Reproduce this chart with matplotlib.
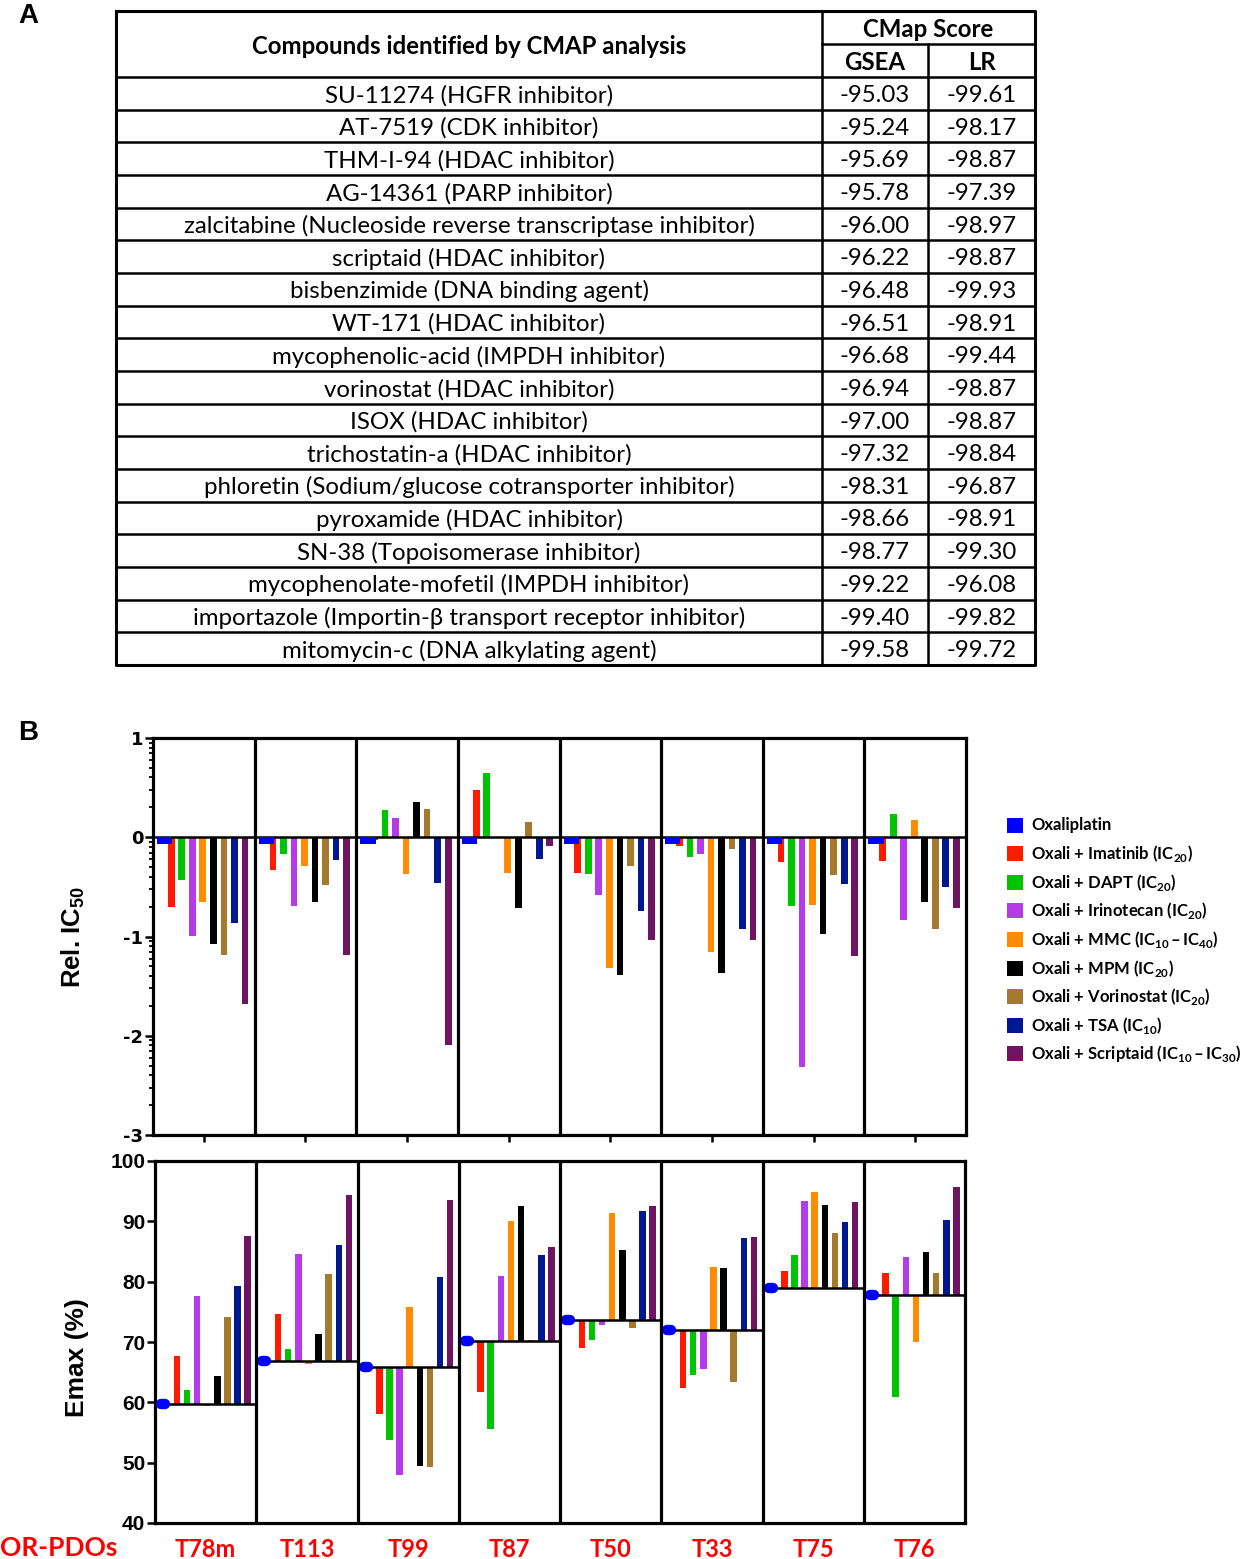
import numpy as np
import matplotlib.pyplot as plt
from matplotlib.patches import Rectangle
from matplotlib.ticker import FixedLocator

plt.rcParams['axes.unicode_minus'] = False
plt.rcParams['mathtext.fontset'] = 'custom'
plt.rcParams['mathtext.rm'] = 'Lato'
plt.rcParams['mathtext.bf'] = 'Lato:bold'
plt.rcParams['mathtext.sf'] = 'Liberation Sans:bold'

W, H = 1248, 1559

# ---------------- Panel A : CMap table ----------------
compounds = [
    "SU-11274 (HGFR inhibitor)",
    "AT-7519 (CDK inhibitor)",
    "THM-I-94 (HDAC inhibitor)",
    "AG-14361 (PARP inhibitor)",
    "zalcitabine (Nucleoside reverse transcriptase inhibitor)",
    "scriptaid (HDAC inhibitor)",
    "bisbenzimide (DNA binding agent)",
    "WT-171 (HDAC inhibitor)",
    "mycophenolic-acid (IMPDH inhibitor)",
    "vorinostat (HDAC inhibitor)",
    "ISOX (HDAC inhibitor)",
    "trichostatin-a (HDAC inhibitor)",
    "phloretin (Sodium/glucose cotransporter inhibitor)",
    "pyroxamide (HDAC inhibitor)",
    "SN-38 (Topoisomerase inhibitor)",
    "mycophenolate-mofetil (IMPDH inhibitor)",
    "importazole (Importin-\u03b2 transport receptor inhibitor)",
    "mitomycin-c (DNA alkylating agent)",
]
gsea_score = [-95.03, -95.24, -95.69, -95.78, -96.00, -96.22, -96.48, -96.51, -96.68,
              -96.94, -97.00, -97.32, -98.31, -98.66, -98.77, -99.22, -99.40, -99.58]
lr_score = [-99.61, -98.17, -98.87, -97.39, -98.97, -98.87, -99.93, -98.91, -99.44,
            -98.87, -98.87, -98.84, -96.87, -98.91, -99.30, -96.08, -99.82, -99.72]

# ---------------- Panel B : organoid responses ----------------
pdos = ["T78m", "T113", "T99", "T87", "T50", "T33", "T75", "T76"]
legend_labels = [
    "Oxaliplatin",
    "Oxali + Imatinib (IC$_{\\mathbf{20}}$)",
    "Oxali + DAPT (IC$_{\\mathbf{20}}$)",
    "Oxali + Irinotecan (IC$_{\\mathbf{20}}$)",
    "Oxali + MMC (IC$_{\\mathbf{10}}$\u2009\u2013\u2009IC$_{\\mathbf{40}}$)",
    "Oxali + MPM (IC$_{\\mathbf{20}}$)",
    "Oxali + Vorinostat (IC$_{\\mathbf{20}}$)",
    "Oxali + TSA (IC$_{\\mathbf{10}}$)",
    "Oxali + Scriptaid (IC$_{\\mathbf{10}}$\u2009\u2013\u2009IC$_{\\mathbf{30}}$)",
]
bar_colors = ["#0000FF", "#FF1A00", "#00C400", "#B53BE8", "#FF8C00",
              "#000000", "#A47A2C", "#001890", "#6E1460"]

# relative IC50 (log scale, vs oxaliplatin alone)
oxali_rel = [-0.07, -0.07, -0.07, -0.07, -0.07, -0.07, -0.07, -0.07]
imatinib_rel = [-0.70, -0.33, -0.03, 0.48, -0.36, -0.09, -0.25, -0.24]
dapt_rel = [-0.43, -0.17, 0.27, 0.65, -0.37, -0.20, -0.69, 0.23]
irino_rel = [-0.99, -0.69, 0.19, -0.01, -0.58, -0.17, -2.31, -0.83]
mmc_rel = [-0.65, -0.29, -0.37, -0.36, -1.32, -1.16, -0.68, 0.17]
mpm_rel = [-1.08, -0.65, 0.36, -0.71, -1.39, -1.37, -0.97, -0.65]
vorino_rel = [-1.19, -0.48, 0.28, 0.15, -0.29, -0.12, -0.38, -0.92]
tsa_rel = [-0.86, -0.23, -0.46, -0.22, -0.74, -0.92, -0.47, -0.50]
scrip_rel = [-1.68, -1.19, -2.09, -0.09, -1.04, -1.04, -1.20, -0.71]

# Emax (%)
oxali_emax = [59.8, 66.9, 65.9, 70.1, 73.6, 72.0, 78.9, 77.8]
imatinib_emax = [67.7, 74.7, 58.1, 61.7, 69.0, 62.4, 81.7, 81.5]
dapt_emax = [62.0, 68.9, 53.8, 55.5, 70.4, 64.6, 84.5, 60.9]
irino_emax = [77.7, 84.6, 48.0, 80.9, 72.8, 65.6, 93.3, 84.1]
mmc_emax = [59.4, 66.4, 75.8, 90.0, 91.4, 82.5, 94.8, 70.0]
mpm_emax = [64.3, 71.3, 49.5, 92.6, 85.2, 82.3, 92.7, 84.9]
vorino_emax = [74.2, 81.2, 49.3, 70.4, 72.3, 63.4, 88.0, 81.5]
tsa_emax = [79.2, 86.1, 80.8, 84.5, 91.7, 87.3, 89.9, 90.2]
scrip_emax = [87.5, 94.4, 93.5, 85.7, 92.6, 87.4, 93.2, 95.7]

combo_rel = [imatinib_rel, dapt_rel, irino_rel, mmc_rel, mpm_rel, vorino_rel, tsa_rel, scrip_rel]
combo_emax = [imatinib_emax, dapt_emax, irino_emax, mmc_emax, mpm_emax, vorino_emax, tsa_emax, scrip_emax]

fig = plt.figure(figsize=(W / 100, H / 100), dpi=100)


def px_axes(l, t, r, b):
    return fig.add_axes([l / W, 1 - b / H, (r - l) / W, (b - t) / H])


# overlay in pixel coordinates for the table and free text
ov = fig.add_axes([0, 0, 1, 1], zorder=0)
ov.set_xlim(0, W)
ov.set_ylim(H, 0)
ov.axis("off")

tfont = ["Lato", "DejaVu Sans"]
tsize = 17.3
xl, xg, xr, xe = 116, 822, 928, 1035
ytop, ymid, yhead = 11, 44, 77
ybot = 665
row_h = (ybot - yhead) / len(compounds)
lw_t = 1.8

# table grid
ov.plot([xl, xe, xe, xl, xl], [ytop, ytop, ybot, ybot, ytop], color="k", lw=2.2)
ov.plot([xg, xg], [ytop, ybot], color="k", lw=lw_t)
ov.plot([xr, xr], [ymid, ybot], color="k", lw=lw_t)
ov.plot([xg, xe], [ymid, ymid], color="k", lw=lw_t)
for i in range(len(compounds)):
    y = yhead + i * row_h
    ov.plot([xl, xe], [y, y], color="k", lw=lw_t)

ov.text((xl + xg) / 2, (ytop + yhead) / 2 + 2, "Compounds identified by CMAP analysis",
        ha="center", va="center", fontsize=tsize, fontweight="bold", family=tfont)
ov.text((xg + xe) / 2, (ytop + ymid) / 2 + 2, "CMap Score", ha="center", va="center",
        fontsize=tsize, fontweight="bold", family=tfont)
ov.text((xg + xr) / 2, (ymid + yhead) / 2 + 2, "GSEA", ha="center", va="center",
        fontsize=tsize, fontweight="bold", family=tfont)
ov.text((xr + xe) / 2, (ymid + yhead) / 2 + 2, "LR", ha="center", va="center",
        fontsize=tsize, fontweight="bold", family=tfont)

for i, (name, g, r) in enumerate(zip(compounds, gsea_score, lr_score)):
    yc = yhead + (i + 0.5) * row_h + 2
    ov.text((xl + xg) / 2, yc, name, ha="center", va="center", fontsize=tsize, family=tfont)
    ov.text((xg + xr) / 2, yc, f"{g:.2f}", ha="center", va="center", fontsize=tsize, family=tfont)
    ov.text((xr + xe) / 2, yc, f"{r:.2f}", ha="center", va="center", fontsize=tsize, family=tfont)

ov.text(28, 16, "A", ha="center", va="center", fontsize=20, fontweight="bold",
        family="Liberation Sans")
ov.text(28, 733, "B", ha="center", va="center", fontsize=20, fontweight="bold",
        family="Liberation Sans")

x = np.arange(len(pdos))
spine_w = 2.3

# ---------------- top: Rel. IC50 ----------------
ax1 = px_axes(153, 738, 966, 1135)
for k, (vals, col) in enumerate(zip(combo_rel, bar_colors[1:])):
    ax1.bar(x + 0.18 + k * 0.1035, vals, width=0.066, color=col, zorder=2)
ax1.bar(x + 0.115, oxali_rel, width=0.15, color=bar_colors[0], zorder=5)
ax1.axhline(0, color="k", lw=1.8, zorder=4)
for g in range(1, len(pdos)):
    ax1.axvline(g, color="k", lw=spine_w, zorder=6)
ax1.set_xlim(0, len(pdos))
ax1.set_ylim(-3, 1)
ax1.set_yticks([-3, -2, -1, 0, 1])
ax1.set_yticklabels(["-3", "-2", "-1", "0", "1"], fontsize=13, fontweight="bold",
                    family="DejaVu Sans")
minor = [n + np.log10(k) for n in range(-3, 1) for k in range(2, 10)]
ax1.yaxis.set_minor_locator(FixedLocator(minor))
ax1.set_xticks(x + 0.5)
ax1.set_xticklabels([])
ax1.tick_params(axis="y", which="major", length=6, width=1.8, pad=1)
ax1.tick_params(axis="y", which="minor", length=3, width=1.3)
ax1.tick_params(axis="x", length=5, width=1.8)
for s in ax1.spines.values():
    s.set_linewidth(spine_w)

# ---------------- bottom: Emax ----------------
ax2 = px_axes(155, 1161, 965, 1523)
for k, (vals, col) in enumerate(zip(combo_emax, bar_colors[1:])):
    ax2.bar(x + 0.215 + k * 0.1, np.array(vals) - np.array(oxali_emax), bottom=oxali_emax,
            width=0.064, color=col, zorder=2)
ax2.hlines(oxali_emax, x, x + 1, color="k", lw=1.8, zorder=3)
for g, base in enumerate(oxali_emax):
    ax2.plot([g + 0.06, g + 0.1], [base, base], color=bar_colors[0], lw=7.5,
             solid_capstyle="round", zorder=5)
for g in range(1, len(pdos)):
    ax2.axvline(g, color="k", lw=spine_w, zorder=6)
ax2.set_xlim(0, len(pdos))
ax2.set_ylim(40, 100)
ax2.set_yticks(np.arange(40, 101, 10))
ax2.set_yticklabels([str(v) for v in range(40, 101, 10)], fontsize=15,
                    fontweight="bold", family="Liberation Sans")
ax2.set_xticks(x + 0.5)
ax2.set_xticklabels(pdos, fontsize=17, fontweight="bold", color="#FF0000", family="Lato")
ax2.tick_params(axis="x", length=0, pad=11)
ax2.tick_params(axis="y", length=6, width=1.8, pad=1)
for s in ax2.spines.values():
    s.set_linewidth(spine_w)

# axis titles
ov.text(73, 937, "Rel. IC$_{\\mathsf{50}}$", rotation=90, ha="center", va="center",
        fontsize=18.5, fontweight="bold", family="Liberation Sans")
ov.text(77, 1358, "Emax (%)", rotation=90, ha="center", va="center",
        fontsize=19, fontweight="bold", family="Liberation Sans")
ov.text(0, 1548, "OR-PDOs", ha="left", va="center", fontsize=19, fontweight="bold",
        color="#FF0000", family="Lato")

# legend
for i, (lab, col) in enumerate(zip(legend_labels, bar_colors)):
    yc = 825 + i * 28.6
    ov.add_patch(Rectangle((1007, yc - 7.5), 16, 15, facecolor=col, edgecolor="none"))
    ov.text(1031, yc, lab, ha="left", va="center", fontsize=12, fontweight="bold",
            family=["Lato", "DejaVu Sans"])

fig.savefig("out.png", dpi=100)
